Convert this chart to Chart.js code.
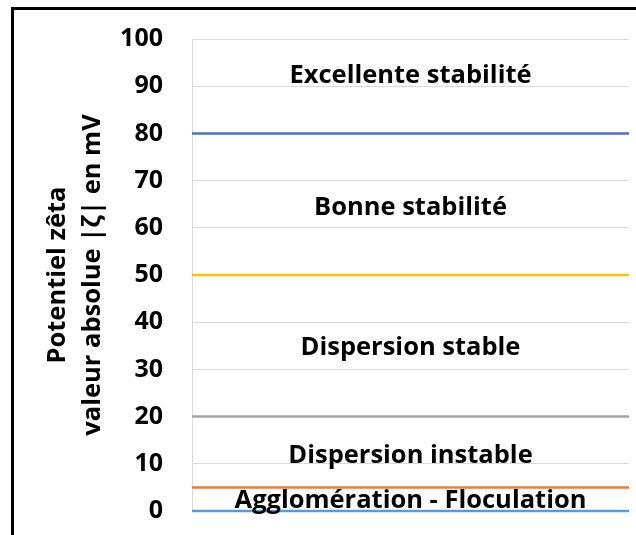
<!DOCTYPE html>
<html>
<head>
<meta charset="utf-8">
<script src="https://cdn.jsdelivr.net/npm/chart.js@4"></script>
<style>
  body { margin: 0; background: #fff; }
  #wrap { position: relative; width: 636px; height: 535px; overflow: hidden; }
  #frame { position: absolute; left: 11px; top: 7px; width: 700px; height: 600px;
           border-left: 3px solid #000; border-top: 3px solid #000; box-sizing: border-box; }
  canvas { position: absolute; left: 0; top: 0; }
</style>
</head>
<body>
<div id="wrap">
  <div id="frame"></div>
  <canvas id="chart" width="636" height="535"></canvas>
</div>
<script>
// seuils du potentiel zêta (mV)
const thresholds = [0, 5, 20, 50, 80];
const thresholdColors = ['#5B9BD5', '#ED7D31', '#A5A5A5', '#FFC000', '#4472C4'];

// libellés des zones et leur hauteur (mV)
const zoneLabels = [
  'Agglomération - Floculation',
  'Dispersion instable',
  'Dispersion stable',
  'Bonne stabilité',
  'Excellente stabilité',
];
const zoneLabelValues = [0.6, 10.2, 33, 62.7, 90.7];

const yMin = 0;
const yMax = 100;
const yStep = 10;
const yTitle = ['Potentiel zêta', 'valeur absolue |ζ| en mV'];

const FONT = '"Open Sans", Lato, sans-serif';

const datasets = thresholds.map((v, i) => ({
  label: 'seuil ' + v,
  data: [{ x: 0, y: v }, { x: 1, y: v }],
  borderColor: thresholdColors[i],
  borderWidth: 2.5,
  pointRadius: 0,
  clip: false,
}));

// texte des zones, centré sur la zone de tracé
const zoneText = {
  id: 'zoneText',
  afterDatasetsDraw(chart) {
    const { ctx, chartArea, scales } = chart;
    const cx = (chartArea.left + chartArea.right) / 2;
    ctx.save();
    ctx.font = 'bold 25.5px ' + FONT;
    ctx.fillStyle = '#000';
    ctx.textAlign = 'center';
    ctx.textBaseline = 'alphabetic';
    zoneLabels.forEach((txt, i) => {
      ctx.fillText(txt, cx, scales.y.getPixelForValue(zoneLabelValues[i]));
    });
    ctx.restore();
  },
};

new Chart(document.getElementById('chart'), {
  type: 'line',
  data: { datasets },
  options: {
    responsive: false,
    animation: false,
    layout: { padding: { left: 0, top: 39, right: 7, bottom: 24 } },
    plugins: { legend: { display: false }, tooltip: { enabled: false } },
    scales: {
      x: { type: 'linear', min: 0, max: 1, display: false },
      y: {
        min: yMin,
        max: yMax,
        afterFit: (scale) => {
          scale.width = 192;
          scale.paddingTop = 0;
          scale.paddingBottom = 0;
        },
        ticks: {
          stepSize: yStep,
          padding: 29,
          color: '#000',
          font: { family: FONT, size: 25, weight: 'bold' },
        },
        grid: { color: '#D9D9D9', lineWidth: 1, drawTicks: false },
        border: { display: true, color: '#D9D9D9', width: 1 },
        title: {
          display: true,
          text: yTitle,
          color: '#000',
          padding: { top: 40, bottom: 0 },
          font: { family: FONT, size: 25.5, weight: 'bold', lineHeight: '35px' },
        },
      },
    },
  },
  plugins: [zoneText],
});
</script>
</body>
</html>
